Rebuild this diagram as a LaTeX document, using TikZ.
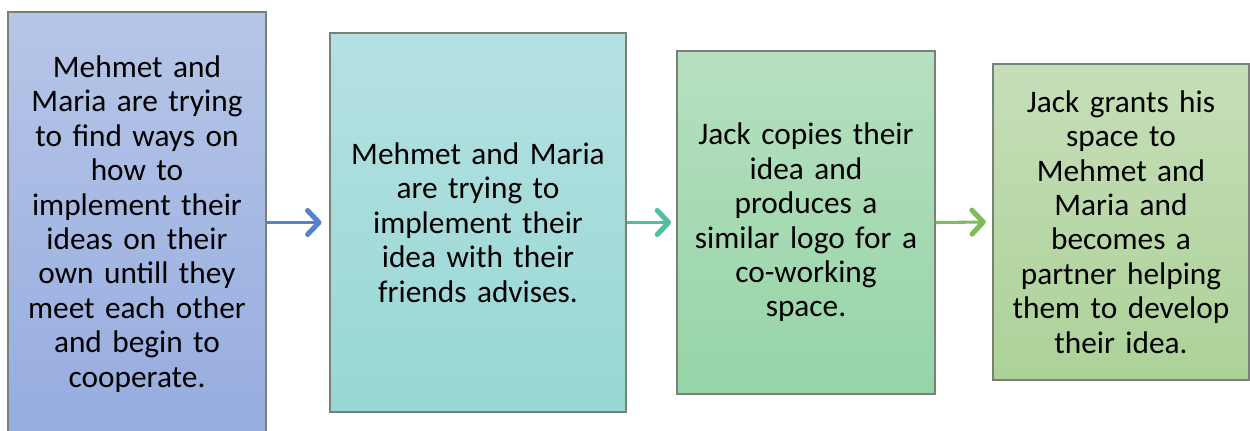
\documentclass[tikz,border=0pt]{standalone}
\usepackage{fontspec}
\setmainfont{Carlito}
\usetikzlibrary{arrows.meta}
\definecolor{boxline}{RGB}{120,128,120}
\definecolor{bluetop}{RGB}{182,198,232}
\definecolor{bluebot}{RGB}{150,172,223}
\definecolor{tealtop}{RGB}{182,224,226}
\definecolor{tealbot}{RGB}{150,216,212}
\definecolor{greentop}{RGB}{182,224,192}
\definecolor{greenbot}{RGB}{150,212,166}
\definecolor{limetop}{RGB}{198,222,184}
\definecolor{limebot}{RGB}{172,210,152}
\definecolor{bluearrow}{RGB}{84,130,204}
\definecolor{tealarrow}{RGB}{78,192,160}
\definecolor{greenarrow}{RGB}{128,186,90}
\tikzset{
  stagebox/.style={draw=boxline, line width=0.8pt, inner sep=0pt, align=center,
    font=\fontsize{23.5}{25.8}\selectfont},
  flow/.style={line width=2.3pt, -{Straight Barb[length=8.5pt, width=18pt, line width=3.8pt, round]}}
}

\begin{document}
\begin{tikzpicture}[x=0.75pt, y=-0.75pt]
          \clip (0,0) rectangle (1250,430);
          \node[stagebox, top color=bluetop, bottom color=bluebot,
                minimum width=193.5pt, minimum height=318pt, text width=190pt]
                (meet) at (137,224)
                {Mehmet and\\ Maria are trying\\ to find ways on\\ how to\\ implement their\\
                 ideas on their\\ own untill they\\ meet each other\\ and begin to\\ cooperate.};
          \node[stagebox, top color=tealtop, bottom color=tealbot,
                minimum width=222pt, minimum height=284.25pt, text width=218pt]
                (friends) at (478,222.5)
                {Mehmet and Maria\\ are trying to\\ implement their\\ idea with their\\ friends advises.};
          \node[stagebox, top color=greentop, bottom color=greenbot,
                minimum width=193.5pt, minimum height=257.25pt, text width=190pt]
                (copy) at (806,222.5)
                {Jack copies their\\ idea and\\ produces a\\ similar logo for a\\ co-working\\ space.};
          \node[stagebox, top color=limetop, bottom color=limebot,
                minimum width=192pt, minimum height=237pt, text width=188pt]
                (partner) at (1121,222)
                {Jack grants his\\ space to\\ Mehmet and\\ Maria and\\ becomes a\\ partner helping\\
                 them to develop\\ their idea.};

          % Draw the arrows
          \draw[flow, bluearrow]  (meet.east |- friends.west) -- ([xshift=-6pt]friends.west);
          \draw[flow, tealarrow]  (friends.east) -- ([xshift=-4pt]copy.west);
          \draw[flow, greenarrow] (copy.east)    -- ([xshift=-5pt]partner.west);
\end{tikzpicture}
\end{document}
